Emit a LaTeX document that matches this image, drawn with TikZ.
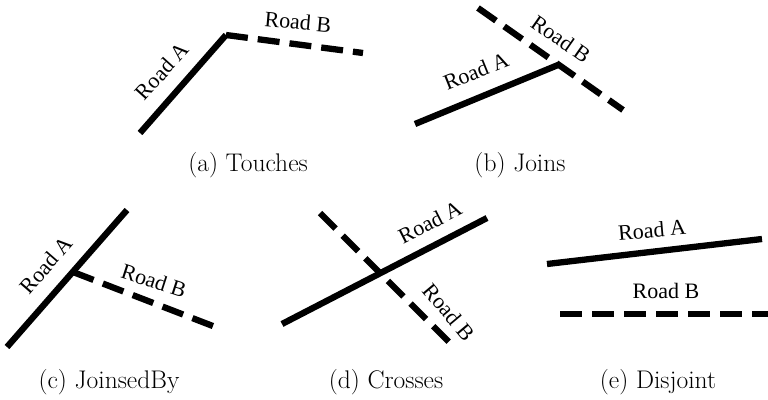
\documentclass[tikz,border=0pt]{standalone}
\usepackage{fontspec}
\newfontfamily\roadfont{Liberation Serif}
\tikzset{
  road/.style={line width=6.3pt},
  droad/.style={line width=6.3pt, dash pattern=on 22pt off 10pt},
  lbl/.style={font=\roadfont\fontsize{22}{24}\selectfont, inner sep=0pt},
  capt/.style={font=\fontsize{25.5}{28}\selectfont, inner sep=0pt}
}
\begin{document}
\begin{tikzpicture}[x=1pt,y=-1pt]
\useasboundingbox (0,0) rectangle (768,399);
% (a)
\coordinate (a1) at (140,133);
\coordinate (a2) at (226,35);
\coordinate (a3) at (363,53);
\draw[road] (a1) -- (a2);
\draw[droad] (a2) -- (a3);
\node[lbl, rotate=48] (aA) at (162,71) {Road A};
\node[lbl, rotate=-5] (aB) at (298,22) {Road B};
\node[capt] (ca) at (248,165) {(a) Touches};
% (b)
\coordinate (bB1) at (478,8);
\coordinate (bB2) at (623,110);
\coordinate (bA1) at (415,124);
\coordinate (bA2) at (558,65);
\draw[droad] (bB1) -- (bB2);
\draw[road] (bA1) -- (bA2);
\node[lbl, rotate=22] (bA) at (476,71) {Road A};
\node[lbl, rotate=-35] (bB) at (561,39) {Road B};
\node[capt] (cb) at (520,165) {(b) Joins};
% (c)
\coordinate (cA1) at (7,347);
\coordinate (cA2) at (127,210);
\coordinate (cB1) at (73,272);
\coordinate (cB2) at (218,328);
\draw[road] (cA1) -- (cA2);
\draw[droad] (cB1) -- (cB2);
\node[lbl, rotate=49] (cA) at (46,265) {Road A};
\node[lbl, rotate=-18] (cB) at (154,281) {Road B};
\node[capt] (cc) at (109,382) {(c) JoinsedBy};
% (d)
\coordinate (dA1) at (282,324);
\coordinate (dA2) at (487,218);
\coordinate (dB1) at (320,213);
\coordinate (dB2) at (455,348);
\draw[droad] (dB1) -- (dB2);
\draw[road] (dA1) -- (dA2);
\node[lbl, rotate=27] (dA) at (430,222) {Road A};
\node[lbl, rotate=-50] (dB) at (449,312) {Road B};
\node[capt] (cd) at (386,382) {(d) Crosses};
% (e)
\coordinate (eA1) at (547,264);
\coordinate (eA2) at (762,239);
\coordinate (eB1) at (560,314);
\coordinate (eB2) at (768,314);
\draw[road] (eA1) -- (eA2);
\draw[droad] (eB1) -- (eB2);
\node[lbl, rotate=5] (eA) at (652,230) {Road A};
\node[lbl] (eB) at (666,291) {Road B};
\node[capt] (ce) at (658,382) {(e) Disjoint};
\end{tikzpicture}
\end{document}
